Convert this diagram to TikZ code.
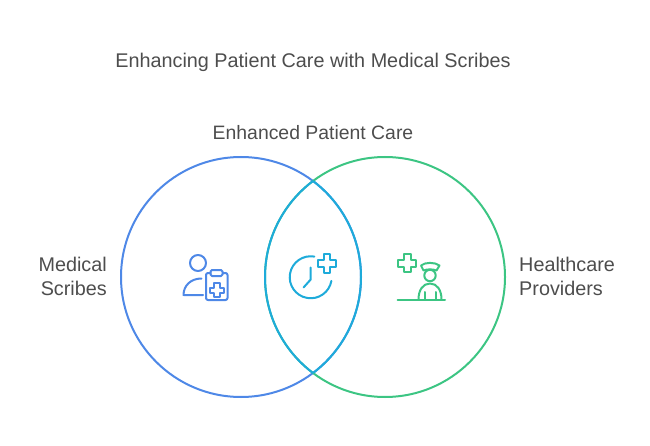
\documentclass[tikz,border=0pt]{standalone}
\usepackage{fontspec}
\setmainfont{Liberation Sans}
\definecolor{txt}{HTML}{4D4D4D}
\definecolor{cblue}{HTML}{4E88E7}
\definecolor{cgreen}{HTML}{3CC583}
\definecolor{ccyan}{HTML}{1EABDA}
\tikzset{
  lab/.style={text=txt,font=\fontsize{19.8}{24}\selectfont,inner sep=0pt},
  ring/.style={circle,draw=#1,line width=2pt,minimum size=240pt,inner sep=0pt},
  icon/.style={draw=#1,line width=2pt,line cap=round,line join=round,fill=none},
  lens/.style={draw=ccyan,line width=2pt}
}
\begin{document}
\begin{tikzpicture}[x=1pt,y=-1pt]
\useasboundingbox (0,0) rectangle (650,446);
\node[lab,anchor=base] (title) at (313,68) {Enhancing Patient Care with Medical Scribes};
\node[lab,anchor=base,font=\fontsize{19.4}{24}\selectfont] (top) at (313,140) {Enhanced Patient Care};
\node[lab,anchor=base east,align=right] (ms) at (107,295) {Medical\\Scribes};
\node[lab,anchor=base west,align=left] (hp) at (519,295) {Healthcare\\Providers};
\node[ring=cblue] (L) at (241,277) {};
\node[ring=cgreen] (R) at (385,277) {};
\coordinate (lensT) at (313,181);
\draw[lens] (lensT) arc[start angle=53.13,end angle=-53.13,x radius=120,y radius=-120];
\draw[lens] (lensT) arc[start angle=126.87,end angle=233.13,x radius=120,y radius=-120];
% medical scribe icon
\draw[icon=cblue] (198,263) circle[radius=8];
\draw[icon=cblue] (201.5,278.5) .. controls (191,278.5) and (183.5,285.5) .. (183.5,295) -- (203,295);
\draw[icon=cblue,rounded corners=2pt] (210.5,273) -- (206,273) -- (206,300) -- (227.5,300) -- (227.5,273) -- (222.5,273);
\draw[icon=cblue,rounded corners=1.5pt] (210.5,270) rectangle (222.5,276);
\draw[icon=cblue] (214,283) -- (219.5,283) -- (219.5,287.5) -- (224,287.5) -- (224,292.5) -- (219.5,292.5) -- (219.5,297) -- (214,297) -- (214,292.5) -- (209.5,292.5) -- (209.5,287.5) -- (214,287.5) -- cycle;
% clock icon
\draw[icon=ccyan] (331.4,280.9) arc[start angle=10,end angle=280,radius=21];
\draw[icon=ccyan] (310.7,267.5) -- (310.7,279.5) -- (303.5,287.5);
\draw[icon=ccyan] (323.5,254) -- (330,254) -- (330,260) -- (336,260) -- (336,266.5) -- (330,266.5) -- (330,272.5) -- (323.5,272.5) -- (323.5,266.5) -- (317.5,266.5) -- (317.5,260) -- (323.5,260) -- cycle;
% provider icon
\draw[icon=cgreen] (404,254.5) -- (410.5,254.5) -- (410.5,260) -- (416,260) -- (416,266.5) -- (410.5,266.5) -- (410.5,272) -- (404,272) -- (404,266.5) -- (398,266.5) -- (398,260) -- (404,260) -- cycle;
\draw[icon=cgreen] (430,275.5) circle[radius=5.7];
\draw[icon=cgreen] (421,265.5) .. controls (425,262) and (435,262) .. (439.5,265.5) -- (436.5,270.5) .. controls (433,269) and (427,269) .. (423.5,270.5) -- cycle;
\draw[icon=cgreen] (397.5,299.5) -- (445,299.5);
\draw[icon=cgreen] (418.5,299.5) .. controls (418.5,290) and (423,283.5) .. (430,283.5) .. controls (437,283.5) and (441.5,290) .. (441.5,299.5);
\draw[icon=cgreen] (424.5,292) -- (424.5,299.5);
\draw[icon=cgreen] (435.5,292) -- (435.5,299.5);
\end{tikzpicture}
\end{document}
